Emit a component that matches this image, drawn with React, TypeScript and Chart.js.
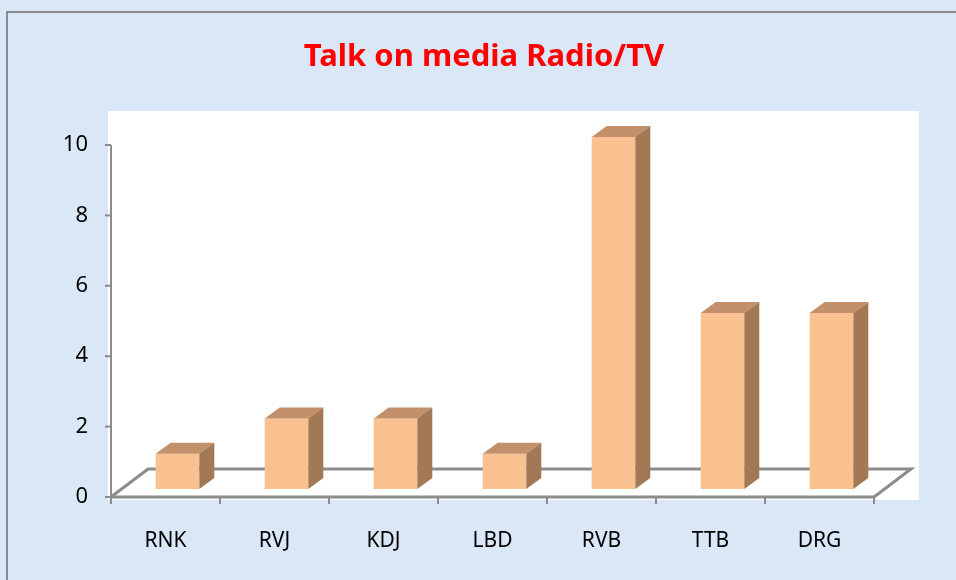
import React, { useEffect, useRef } from "react";
import { Chart, registerables } from "chart.js";

Chart.register(...registerables);

const categories = ["RNK", "RVJ", "KDJ", "LBD", "RVB", "TTB", "DRG"];
const values = [1, 2, 2, 1, 10, 5, 5];
const yMin = 0;
const yMax = 10;
const yStep = 2;
const titleText = "Talk on media Radio/TV";

export default function App() {
  const ref = useRef<HTMLCanvasElement>(null);

  useEffect(() => {
    document.body.style.margin = "0";
    const canvas = ref.current!;
    const BAR_SHIFT = { x: 12, y: -8 };
    const DEPTH = { x: 15, y: -11 };
    const FLOOR = { x: 37, y: -28 };
    const AXIS = "#8c8c8c";

    const deco = {
      id: "deco",
      beforeDraw(chart: any) {
        const { ctx, width, height, chartArea } = chart;
        ctx.save();
        ctx.fillStyle = "#dae7f6";
        ctx.fillRect(0, 0, width, height);
        ctx.strokeStyle = "#8a8a8a";
        ctx.lineWidth = 2;
        ctx.strokeRect(7, 12, width + 20, height + 20);
        ctx.fillStyle = "#ffffff";
        ctx.fillRect(
          chartArea.left - 3,
          chartArea.top - 34,
          chartArea.right - chartArea.left + 48,
          chartArea.bottom - chartArea.top + 37
        );
        ctx.fillStyle = "#ff0000";
        ctx.font = "bold 31px 'Noto Sans', sans-serif";
        ctx.textAlign = "center";
        ctx.textBaseline = "alphabetic";
        ctx.fillText(titleText, 484, 66);
        ctx.restore();
      },
      beforeDatasetsDraw(chart: any) {
        const { ctx, chartArea, scales } = chart;
        const ys = scales.y;
        const xs = scales.x;
        const L = chartArea.left;
        const R = chartArea.right;
        const B = chartArea.bottom;
        ctx.save();
        ctx.strokeStyle = AXIS;
        ctx.lineCap = "butt";
        ctx.lineWidth = 3;
        ctx.beginPath();
        ctx.moveTo(L, B);
        ctx.lineTo(L + FLOOR.x, B + FLOOR.y);
        ctx.lineTo(R + FLOOR.x, B + FLOOR.y);
        ctx.lineTo(R, B);
        ctx.stroke();
        ctx.beginPath();
        ctx.moveTo(L, B);
        ctx.lineTo(R, B);
        ctx.stroke();
        ctx.lineWidth = 2;
        ctx.beginPath();
        ctx.moveTo(L, ys.getPixelForValue(yMax));
        ctx.lineTo(L, B);
        ctx.stroke();
        for (let v = yMin; v <= yMax; v += yStep) {
          const py = ys.getPixelForValue(v);
          ctx.beginPath();
          ctx.moveTo(L - 6, py);
          ctx.lineTo(L, py);
          ctx.stroke();
        }
        const half = (xs.getPixelForValue(1) - xs.getPixelForValue(0)) / 2;
        for (let i = 0; i <= categories.length; i++) {
          const px = i < categories.length ? xs.getPixelForValue(i) - half : R;
          ctx.beginPath();
          ctx.moveTo(px, B);
          ctx.lineTo(px, B + 7);
          ctx.stroke();
        }
        ctx.restore();
        ctx.save();
        ctx.translate(BAR_SHIFT.x, BAR_SHIFT.y);
      },
      afterDatasetsDraw(chart: any) {
        const { ctx } = chart;
        const meta = chart.getDatasetMeta(0);
        meta.data.forEach((bar: any) => {
          const { x, y, base, width } = bar.getProps(["x", "y", "base", "width"], true);
          const l = x - width / 2;
          const r = x + width / 2;
          ctx.fillStyle = "#c2906a";
          ctx.beginPath();
          ctx.moveTo(l, y);
          ctx.lineTo(l + DEPTH.x, y + DEPTH.y);
          ctx.lineTo(r + DEPTH.x, y + DEPTH.y);
          ctx.lineTo(r, y);
          ctx.closePath();
          ctx.fill();
          ctx.fillStyle = "#a37955";
          ctx.beginPath();
          ctx.moveTo(r, y);
          ctx.lineTo(r + DEPTH.x, y + DEPTH.y);
          ctx.lineTo(r + DEPTH.x, base + DEPTH.y);
          ctx.lineTo(r, base);
          ctx.closePath();
          ctx.fill();
        });
        ctx.restore();
      },
    };

    const chart = new Chart(canvas, {
      type: "bar",
      data: {
        labels: categories,
        datasets: [
          {
            data: values,
            backgroundColor: "#f9c18f",
            borderWidth: 0,
            categoryPercentage: 1,
            barPercentage: 0.4,
            clip: false as any,
          },
        ],
      },
      options: {
        responsive: false,
        animation: false,
        layout: { padding: { left: 0, right: 82, top: 145, bottom: 0 } },
        plugins: {
          legend: { display: false },
          title: { display: false },
          tooltip: { enabled: false },
        },
        scales: {
          x: {
            grid: { display: false, drawTicks: false },
            border: { display: false },
            ticks: {
              color: "#000",
              padding: 31,
              font: { family: "'Noto Sans', sans-serif", size: 21 },
            },
            afterFit: (s: any) => {
              s.height = 83;
            },
          },
          y: {
            min: yMin,
            max: yMax,
            grid: { display: false, drawTicks: false },
            border: { display: false },
            ticks: {
              stepSize: yStep,
              color: "#000",
              padding: 23,
              font: { family: "'Noto Sans', sans-serif", size: 22 },
            },
            afterFit: (s: any) => {
              s.width = 111;
            },
          },
        },
      },
      plugins: [deco],
    });
    return () => chart.destroy();
  }, []);

  return <canvas ref={ref} width={956} height={580} style={{ display: "block" }} />;
}
